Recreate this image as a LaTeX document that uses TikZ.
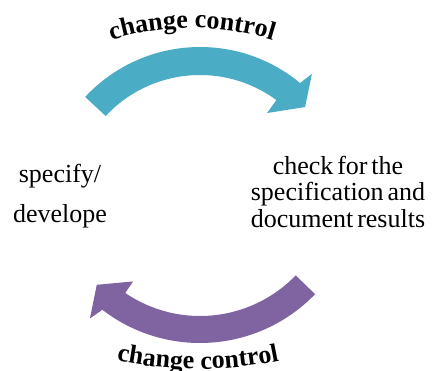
\documentclass[tikz,border=0pt]{standalone}
\usepackage{fontspec}
\setmainfont{Liberation Serif}
\newfontfamily\tightserif{Liberation Serif}[WordSpace=0.6]
\usetikzlibrary{decorations.text}
\definecolor{topc}{RGB}{75,172,198}
\definecolor{botc}{RGB}{128,100,162}
\newcommand\lblfnt{\bfseries\fontsize{26pt}{30pt}\selectfont}
\newcommand\leftfnt{\tightserif\fontsize{26pt}{40pt}\selectfont}
\newcommand\rightfnt{\tightserif\fontsize{26pt}{26.5pt}\selectfont}
\tikzset{
  bodytext/.style={align=center, anchor=base, inner sep=0pt, font=\leftfnt},
  bodytextr/.style={align=center, anchor=base, inner sep=0pt, font=\rightfnt},
  arctext/.style={decorate, decoration={text along path, text align=center, text={|\lblfnt|#1}}}
}
\begin{document}
\begin{tikzpicture}[x=1pt,y=1pt]
\useasboundingbox (0,0) rectangle (433,370);
% top arrow
\begin{scope}[shift={(200pt,166pt)}]
\fill[topc] (137:157pt) arc[start angle=137, end angle=50.4, radius=157pt]
  -- (49.3:171.6pt) -- (42.7:143pt) -- (53.6:113pt) -- (53.7:129pt)
  arc[start angle=53.7, end angle=137, radius=129pt] -- cycle;
\end{scope}
% bottom arrow
\begin{scope}[shift={(200pt,187pt)}]
\fill[botc] (-44:133pt) arc[start angle=-44, end angle=-124.2, radius=133pt]
  -- (-124.2:119pt) -- (-135.4:145pt) -- (-129.1:174.5pt) -- (-127.6:160pt)
  arc[start angle=-127.6, end angle=-44, radius=160pt] -- cycle;
\end{scope}
% labels
\begin{scope}[shift={(192pt,70pt)}]
\path[arctext={change control}] (120:272pt) arc[start angle=120, end angle=60, radius=272pt];
\end{scope}
\begin{scope}[shift={(198pt,405pt)}]
\path[arctext={change control}] (-110:404pt) arc[start angle=-110, end angle=-70, radius=404pt];
\end{scope}
\node[bodytext] (spec) at (60,148) {specify/\\develope};
\node[bodytextr] (check) at (338,143) {check for the\\specification and\\document results};
\end{tikzpicture}
\end{document}
